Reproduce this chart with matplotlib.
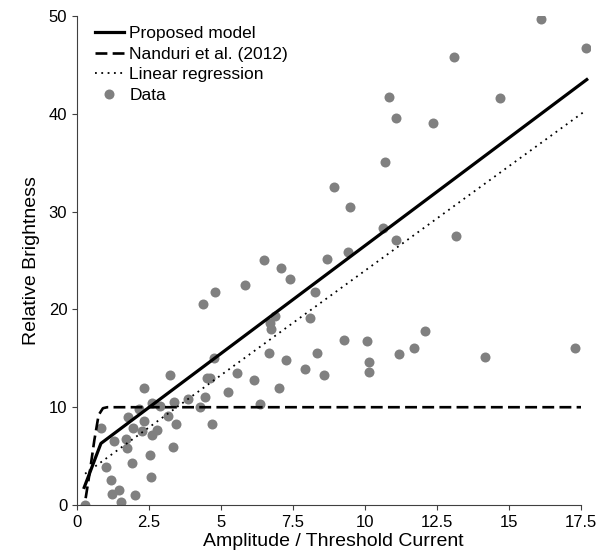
import numpy as np
import matplotlib
matplotlib.use("Agg")
import matplotlib.pyplot as plt

plt.rcParams['font.family'] = ['Liberation Sans', 'DejaVu Sans']

# data points
data_x = [17.67, 16.1, 13.08, 14.69, 10.84, 11.08, 12.36, 10.7, 8.93, 9.47,
          10.61, 11.07, 13.17, 6.5, 8.67, 9.4, 7.09, 7.4, 5.84, 4.78,
          4.39, 8.26, 6.88, 6.69, 6.75, 8.09, 12.1, 9.28, 10.06, 11.69,
          17.3, 14.18, 11.17, 10.13, 10.14, 8.32, 6.66, 7.27, 7.92, 8.56,
          4.74, 5.54, 6.13, 4.5, 4.62, 5.23, 7.0, 4.44, 6.36, 4.28,
          4.68, 3.22, 2.34, 3.87, 3.38, 2.89, 2.59, 2.16, 1.76, 2.31,
          3.15, 3.44, 1.93, 2.26, 2.78, 2.59, 0.83, 1.3, 1.7, 1.74,
          3.35, 2.53, 1.0, 1.9, 1.18, 2.57, 1.2, 1.47, 2.02, 1.53,
          0.28]
data_y = [46.7, 49.7, 45.8, 41.6, 41.7, 39.6, 39.1, 35.1, 32.5, 30.5,
          28.3, 27.1, 27.5, 25.1, 25.2, 25.9, 24.2, 23.1, 22.5, 21.8,
          20.6, 21.8, 19.3, 18.6, 18.0, 19.1, 17.8, 16.9, 16.75, 16.1,
          16.1, 15.1, 15.4, 14.6, 13.6, 15.55, 15.5, 14.8, 13.9, 13.3,
          15.0, 13.5, 12.8, 13.0, 13.0, 11.6, 11.95, 11.0, 10.3, 10.0,
          8.3, 13.3, 11.95, 10.86, 10.5, 10.1, 10.4, 9.8, 9.0, 8.6,
          9.1, 8.3, 7.9, 7.6, 7.7, 7.2, 7.9, 6.5, 6.75, 5.8,
          5.9, 5.1, 3.9, 4.3, 2.57, 2.9, 1.1, 1.5, 1.0, 0.3,
          0.0]

# model curves
proposed_x = [0.25, 0.83, 17.7]
proposed_y = [1.8, 6.3, 43.5]
nanduri_x = [0.3, 0.45, 0.6, 0.75, 0.9, 1.05, 17.5]
nanduri_y = [0.7, 3.5, 6.6, 9.2, 9.9, 10.0, 10.0]
regress_x = [0.28, 17.6]
regress_y = [3.2, 40.2]

xticks = [0, 2.5, 5, 7.5, 10, 12.5, 15, 17.5]
xticklabels = ['0', '2.5', '5', '7.5', '10', '12.5', '15', '17.5']
yticks = [0, 10, 20, 30, 40, 50]

fig = plt.figure(figsize=(6.05, 5.54), dpi=100)
ax = fig.add_axes([0.1273, 0.0884, 0.8473, 0.8827])

ax.plot(proposed_x, proposed_y, color='black', lw=2.3, label='Proposed model',
        clip_on=False, zorder=3)
ax.plot(nanduri_x, nanduri_y, color='black', lw=1.9, ls=(0, (4.5, 2)),
        label='Nanduri et al. (2012)', clip_on=False, zorder=3)
ax.plot(regress_x, regress_y, color='black', lw=1.3, ls=(0, (1, 2.5)),
        label='Linear regression', clip_on=False, zorder=3)
ax.plot(data_x, data_y, 'o', color='#808080', ms=7.2, mec='none',
        label='Data', zorder=2)

ax.set_xlim(0, 17.8)
ax.set_ylim(0, 50)
ax.set_xticks(xticks)
ax.set_xticklabels(xticklabels)
ax.set_yticks(yticks)
ax.spines['top'].set_visible(False)
ax.spines['right'].set_visible(False)
ax.spines['bottom'].set_bounds(0, 17.5)
for s in ['left', 'bottom']:
    ax.spines[s].set_color('#404040')
ax.tick_params(axis='both', direction='out', length=3.5, labelsize=12,
               color='#404040')

ax.set_xlabel('Amplitude / Threshold Current', fontsize=14, labelpad=2)
ax.set_ylabel('Relative Brightness', fontsize=14, labelpad=6)

ax.legend(loc='upper left', bbox_to_anchor=(0.021, 0.994), borderaxespad=0,
          frameon=False, fontsize=12.5, handlelength=1.7, handletextpad=0.3,
          labelspacing=0.32)

fig.savefig('out.png', dpi=100)
